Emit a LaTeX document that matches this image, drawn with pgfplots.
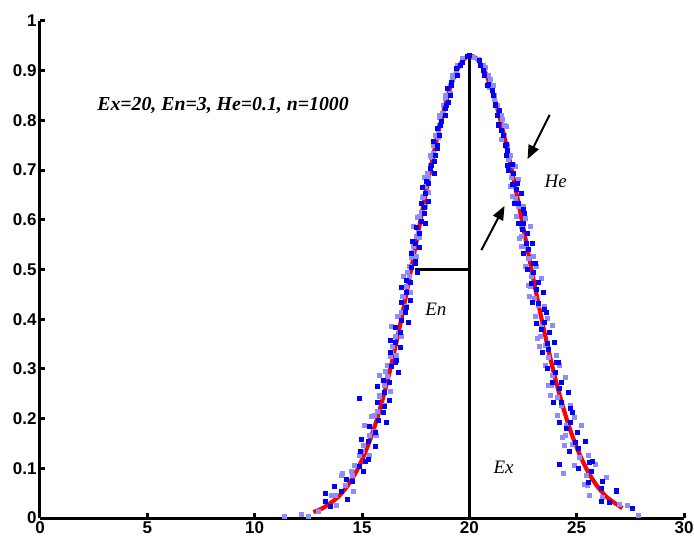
\documentclass[border=0pt]{standalone}
\usepackage{fontspec}
\setmainfont{Liberation Serif}
\setsansfont{Liberation Sans}
\usepackage{pgfplots}
\pgfplotsset{compat=1.18}
\usetikzlibrary{arrows.meta}
\definecolor{dblue}{RGB}{0,0,255}
\definecolor{lblue}{RGB}{140,140,255}
\definecolor{cred}{RGB}{255,0,0}
\begin{document}
\begin{tikzpicture}
\begin{axis}[
  scale only axis, width=644pt, height=497pt,
  xmin=0, xmax=30, ymin=0, ymax=1,
  axis x line*=bottom, axis y line*=left,
  axis line style={line width=3pt, -},
  tick align=inside,
  major tick length=5pt,
  every tick/.style={line width=3pt, black},
  xtick={0,5,10,15,20,25,30},
  xticklabels={0,5,10,15,20,25,30},
  ytick={0,0.1,0.2,0.3,0.4,0.5,0.6,0.7,0.8,0.9,1},
  yticklabels={0,0.1,0.2,0.3,0.4,0.5,0.6,0.7,0.8,0.9,1},
  ticklabel style={font=\fontsize{17}{17}\selectfont\sffamily\bfseries},
  clip=false,
]
% light drops
\addplot[only marks, mark=square*, mark size=2pt, mark options={draw=lblue, fill=lblue, line width=0pt}] coordinates {
(12.97,0.014)(26.99,0.027)(13.58,0.045)(26.20,0.042)(14.59,0.054)(25.37,0.067)
(14.56,0.085)(26.39,0.082)(14.50,0.094)(25.88,0.107)(14.88,0.125)(25.12,0.122)
(15.03,0.134)(24.82,0.147)(15.68,0.165)(24.32,0.162)(15.56,0.174)(25.23,0.187)
(15.44,0.205)(24.89,0.202)(15.71,0.214)(24.30,0.227)(15.81,0.245)(24.09,0.242)
(16.33,0.254)(23.68,0.267)(16.21,0.285)(24.48,0.282)(16.10,0.294)(24.20,0.307)
(16.32,0.325)(23.71,0.322)(16.39,0.334)(23.53,0.347)(16.84,0.365)(23.18,0.362)
(16.73,0.374)(23.88,0.387)(16.64,0.405)(23.63,0.402)(16.83,0.414)(23.21,0.427)
(16.90,0.445)(23.05,0.442)(17.28,0.454)(22.75,0.467)(17.20,0.485)(23.34,0.482)
(17.12,0.494)(23.12,0.507)(17.30,0.525)(22.75,0.522)(17.36,0.534)(22.61,0.547)
(17.70,0.565)(22.34,0.562)(17.64,0.574)(22.83,0.587)(17.59,0.605)(22.63,0.602)
(17.75,0.614)(22.30,0.627)(17.82,0.645)(22.17,0.642)(18.12,0.654)(21.93,0.667)
(18.09,0.685)(22.31,0.682)(18.07,0.694)(22.13,0.707)(18.22,0.725)(21.84,0.722)
(18.31,0.734)(21.71,0.747)(18.57,0.765)(21.49,0.762)(18.58,0.774)(21.75,0.787)
(18.61,0.805)(21.56,0.802)(18.77,0.814)(21.31,0.827)(18.89,0.845)(21.16,0.842)
(19.13,0.854)(20.95,0.867)(19.23,0.885)(21.00,0.882)(19.38,0.894)(20.76,0.907)
(19.67,0.925)(20.42,0.922)
(19.45,0.91)(20.64,0.91)(19.20,0.89)(20.91,0.89)(19.11,0.87)(21.11,0.87)
(18.90,0.85)(21.15,0.85)(18.79,0.83)(21.33,0.83)(18.63,0.81)(21.49,0.81)
(18.60,0.79)(21.64,0.79)(18.43,0.77)(21.64,0.77)(18.34,0.75)(21.79,0.75)
(18.20,0.73)(21.93,0.73)(18.20,0.71)(22.06,0.71)
(20.20,0.927)(11.40,0.004)(12.20,0.008)(12.50,0.004)(14.10,0.090)(27.90,0.005)(24.40,0.090)
(13.81,0.026)(27.35,0.026)(13.75,0.046)(25.61,0.046)(14.24,0.066)(25.51,0.066)
(14.05,0.086)(25.46,0.086)(14.67,0.106)(24.91,0.106)(15.33,0.126)(25.57,0.126)
(15.08,0.146)(24.44,0.146)(15.34,0.166)(24.48,0.166)(15.10,0.186)(24.51,0.186)
(15.56,0.206)(24.10,0.206)(16.07,0.226)(24.70,0.226)(15.83,0.246)(23.78,0.246)
(16.03,0.266)(23.83,0.266)(15.81,0.286)(23.87,0.286)(16.19,0.306)(23.53,0.306)
(16.62,0.326)(24.06,0.326)(16.41,0.346)(23.26,0.346)(16.58,0.366)(23.31,0.366)
(16.39,0.386)(23.35,0.386)(16.72,0.406)(23.06,0.406)(17.09,0.426)(23.51,0.426)
(16.91,0.446)(22.82,0.446)(17.07,0.466)(22.86,0.466)(16.91,0.486)(22.88,0.486)
(17.20,0.506)(22.63,0.506)(17.53,0.526)(23.00,0.526)(17.38,0.546)(22.41,0.546)
(17.52,0.566)(22.43,0.566)(17.40,0.586)(22.44,0.586)(17.66,0.606)(22.21,0.606)
(17.95,0.626)(22.51,0.626)(17.85,0.646)(22.00,0.646)(17.98,0.666)(21.99,0.666)
(17.90,0.686)(21.98,0.686)
};
% dark drops
\addplot[only marks, mark=square*, mark size=2pt, mark options={draw=dblue, fill=dblue, line width=0pt}] coordinates {
(13.52,0.024)(27.62,0.020)(14.33,0.037)(26.52,0.032)(13.72,0.064)(26.15,0.060)
(14.28,0.077)(25.54,0.072)(14.87,0.104)(25.07,0.100)(15.28,0.117)(25.58,0.112)
(15.61,0.144)(25.07,0.140)(14.98,0.157)(24.94,0.152)(15.33,0.184)(24.54,0.180)
(15.75,0.197)(24.22,0.192)(16.05,0.224)(24.69,0.220)(16.30,0.237)(24.30,0.232)
(15.74,0.264)(24.21,0.260)(16.02,0.277)(23.89,0.272)(16.36,0.304)(23.62,0.300)
(16.61,0.317)(24.04,0.312)(16.81,0.344)(23.71,0.340)(16.33,0.357)(23.64,0.352)
(16.57,0.384)(23.37,0.380)(16.86,0.397)(23.14,0.392)(17.08,0.424)(23.50,0.420)
(17.26,0.437)(23.21,0.432)(16.84,0.464)(23.14,0.460)(17.06,0.477)(22.90,0.472)
(17.32,0.504)(22.70,0.500)(17.51,0.517)(23.00,0.512)(17.67,0.544)(22.74,0.540)
(17.33,0.557)(22.67,0.552)(17.52,0.584)(22.46,0.580)(17.75,0.597)(22.28,0.592)
(17.93,0.624)(22.51,0.620)(18.08,0.637)(22.28,0.632)(17.81,0.664)(22.21,0.660)
(17.99,0.677)(22.01,0.672)(18.20,0.704)(21.84,0.700)(18.37,0.717)(22.01,0.712)
(18.51,0.744)(21.79,0.740)(18.33,0.757)(21.71,0.752)(18.51,0.784)(21.52,0.780)
(18.70,0.797)(21.35,0.792)(18.87,0.824)(21.42,0.820)(19.02,0.837)(21.22,0.832)
(18.98,0.864)(21.08,0.860)(19.18,0.877)(20.88,0.872)(19.42,0.904)(20.66,0.900)
(19.70,0.917)(20.45,0.920)
(19.61,0.91)(20.52,0.91)(19.44,0.89)(20.71,0.89)(19.17,0.87)(20.85,0.87)
(19.10,0.85)(21.11,0.85)(18.95,0.83)(21.21,0.83)(18.87,0.81)(21.29,0.81)
(18.66,0.79)(21.38,0.79)(18.63,0.77)(21.60,0.77)(18.50,0.75)(21.67,0.75)
(18.44,0.73)(21.73,0.73)(18.26,0.71)(21.80,0.71)
(20.00,0.930)(19.90,0.928)(14.90,0.240)(13.30,0.050)(24.20,0.107)(26.87,0.056)
(13.29,0.033)(26.14,0.033)(14.05,0.053)(26.84,0.053)(14.58,0.073)(26.21,0.073)
(15.09,0.093)(25.68,0.093)(15.18,0.113)(25.75,0.113)(14.93,0.133)(24.66,0.133)
(15.31,0.153)(25.42,0.153)(15.62,0.173)(25.04,0.173)(16.16,0.193)(24.69,0.193)
(15.99,0.213)(24.81,0.213)(15.74,0.233)(23.94,0.233)(16.03,0.253)(24.61,0.253)
(16.27,0.273)(24.31,0.273)(16.72,0.293)(24.03,0.293)(16.56,0.313)(24.14,0.313)
(16.34,0.333)(23.40,0.333)(16.58,0.353)(23.98,0.353)(16.78,0.373)(23.73,0.373)
(17.17,0.393)(23.49,0.393)(17.04,0.413)(23.58,0.413)(16.85,0.433)(22.94,0.433)
(17.06,0.453)(23.44,0.453)(17.24,0.473)(23.21,0.473)(17.58,0.493)(23.00,0.493)
(17.47,0.513)(23.07,0.513)(17.32,0.533)(22.52,0.533)(17.51,0.553)(22.93,0.553)
(17.67,0.573)(22.73,0.573)(17.97,0.593)(22.54,0.593)(17.89,0.613)(22.58,0.613)
(17.77,0.633)(22.10,0.633)(17.95,0.653)(22.43,0.653)(18.10,0.673)(22.24,0.673)
(18.36,0.693)(22.06,0.693)
};
% Ex and En lines
\draw[line width=3pt] (axis cs:20,0) -- (axis cs:20,0.93);
\draw[line width=3pt] (axis cs:17.45,0.5) -- (axis cs:20,0.5);
% expectation curve
\addplot[cred, line width=4.2pt, line join=round, smooth] coordinates {
(12.735,0.012)(13.178,0.02)(13.829,0.04)(14.244,0.06)(14.557,0.08)(14.813,0.10)
(15.031,0.12)(15.224,0.14)(15.397,0.16)(15.556,0.18)(15.702,0.20)(15.839,0.22)
(15.968,0.24)(16.091,0.26)(16.207,0.28)(16.320,0.30)(16.427,0.32)(16.532,0.34)
(16.633,0.36)(16.732,0.38)(16.829,0.40)(16.923,0.42)(17.016,0.44)(17.107,0.46)
(17.198,0.48)(17.287,0.50)(17.376,0.52)(17.464,0.54)(17.552,0.56)(17.640,0.58)
(17.728,0.60)(17.817,0.62)(17.906,0.64)(17.996,0.66)(18.088,0.68)(18.180,0.70)
(18.276,0.72)(18.373,0.74)(18.474,0.76)(18.579,0.78)(18.689,0.80)(18.806,0.82)
(18.931,0.84)(19.069,0.86)(19.225,0.88)(19.415,0.90)(19.684,0.92)(19.793,0.925)
(19.887,0.928)(20.05,0.93)(20.218,0.928)(20.315,0.925)(20.427,0.92)(20.704,0.90)
(20.900,0.88)(21.060,0.86)(21.203,0.84)(21.331,0.82)(21.452,0.80)(21.565,0.78)
(21.673,0.76)(21.777,0.74)(21.877,0.72)(21.976,0.70)(22.071,0.68)(22.166,0.66)
(22.258,0.64)(22.350,0.62)(22.442,0.60)(22.532,0.58)(22.623,0.56)(22.714,0.54)
(22.804,0.52)(22.896,0.50)(22.988,0.48)(23.081,0.46)(23.175,0.44)(23.271,0.42)
(23.368,0.40)(23.468,0.38)(23.570,0.36)(23.674,0.34)(23.782,0.32)(23.892,0.30)
(24.008,0.28)(24.128,0.26)(24.254,0.24)(24.387,0.22)(24.528,0.20)(24.679,0.18)
(24.843,0.16)(25.021,0.14)(25.220,0.12)(25.444,0.10)(25.708,0.08)(26.030,0.06)
(26.458,0.04)(27.128,0.02)
};
% annotations
\node[anchor=base west, inner sep=0pt, font=\fontsize{19.8}{19.8}\selectfont\bfseries\itshape] at (axis cs:2.66,0.819) {Ex=20, En=3, He=0.1, n=1000};
\node[anchor=base west, inner sep=0pt, font=\fontsize{19}{19}\selectfont\itshape] at (axis cs:17.94,0.408) {En};
\node[anchor=base west, inner sep=0pt, font=\fontsize{19}{19}\selectfont\itshape] at (axis cs:21.12,0.0905) {Ex};
\node[anchor=base west, inner sep=0pt, font=\fontsize{19}{19}\selectfont\itshape] at (axis cs:23.5,0.664) {He};
\draw[line width=2pt, -{Triangle[length=14pt, width=11pt]}] (axis cs:23.74,0.811) -- (axis cs:22.71,0.722);
\draw[line width=2pt, -{Triangle[length=14pt, width=11pt]}] (axis cs:20.56,0.539) -- (axis cs:21.64,0.628);
\end{axis}
\pgfresetboundingbox
\path[use as bounding box] ([xshift=-40pt,yshift=-20pt]current axis.south west) rectangle ([xshift=10pt,yshift=21pt]current axis.north east);
\end{tikzpicture}
\end{document}
